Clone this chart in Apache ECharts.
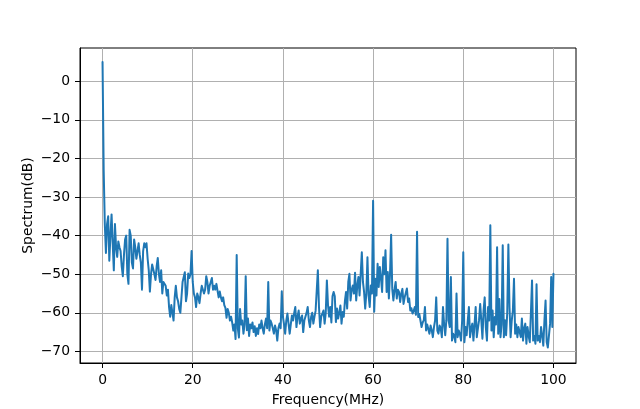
<!DOCTYPE html>
<html><head><meta charset="utf-8">
<script src="https://cdn.jsdelivr.net/npm/echarts@6/dist/echarts.min.js"></script>
<style>html,body{margin:0;padding:0;background:#fff}#c{width:640px;height:409px}</style>
</head><body><div id="c"></div>
<script>
// Spectrum samples (dB), one value every 0.25 MHz, 5 MHz per band
const freqStart = 0, freqStep = 0.25;
const band00 = [5, -23, -37, -44.5, -37, -35, -46.5, -40, -34.5, -42, -49, -37, -43, -45.5, -41.5, -43, -44, -48, -50.5, -45];
const band05 = [-41, -40, -50, -52.5, -38.5, -40, -47, -48.5, -41, -43, -46, -44, -42, -45, -47, -54, -44, -42, -43, -42];
const band10 = [-46, -49, -54.5, -50, -47.5, -48, -50, -51.5, -48, -45.8, -50, -52, -49, -55, -52, -51.5, -53, -55.5, -54, -58.5];
const band15 = [-61, -58, -57.5, -62, -56, -53, -56, -57, -59, -60, -56, -52, -52.5, -49.5, -57, -55, -49.8, -51, -50, -44];
const band20 = [-52, -55, -56, -58.5, -55, -56, -57.5, -55, -53, -52.5, -55, -54, -50.5, -52, -55, -53, -52, -51, -54, -53];
const band25 = [-54, -52.5, -53, -56, -54.5, -56, -57, -56, -58, -58.7, -61.3, -59, -60, -62, -61, -62.5, -64.6, -63, -66.8, -45];
const band30 = [-64, -66.4, -59, -63, -62, -65.4, -63, -50.5, -64.5, -61.5, -66, -63, -64, -62.5, -65, -63.5, -66, -64, -65.5, -63];
const band35 = [-64, -62, -64, -65.4, -63, -61.5, -64, -52, -64.6, -62, -62.8, -64, -65.4, -63.3, -64.5, -67.2, -64, -62.8, -64, -54.4];
const band40 = [-61, -63, -65.4, -62, -60.2, -62.8, -65.4, -63, -60.7, -62, -60, -58.5, -63.7, -61, -59.4, -62.8, -61.5, -60.7, -65, -62];
const band45 = [-61.5, -60, -58.5, -62, -63.7, -61.1, -60, -62.8, -61, -59.5, -60, -49, -58.5, -63.7, -61, -60.2, -59.4, -62.8, -60, -51.6];
const band50 = [-58, -61, -58.5, -62.5, -55.7, -54.6, -55.7, -62.4, -58.9, -61.5, -60, -58.1, -62.8, -59.8, -61, -57, -54.6, -58.9, -52, -49.9];
const band55 = [-56.8, -54, -52.9, -55, -49.6, -56.8, -52.9, -50.7, -55.5, -49.9, -44.3, -52, -54.6, -58.9, -55, -45.6, -55.5, -58.5, -52.9, -55];
const band60 = [-31, -59.7, -51.2, -55.5, -47.3, -53.3, -48.1, -51, -54.6, -45.6, -50, -43.8, -54.6, -49.4, -56.3, -50, -39.8, -53.8, -56.8, -54];
const band65 = [-52, -56.3, -54, -54.6, -57.2, -55, -53.8, -57.7, -56, -55.5, -53.7, -57.2, -56.3, -59.4, -58.8, -60.2, -59.5, -58.5, -60.5, -39];
const band70 = [-61.1, -60.3, -62, -63.7, -62.5, -61.9, -58.5, -64.6, -63, -62.8, -65.4, -63.3, -64.5, -66.3, -63.7, -62, -56, -64.6, -65.4, -63.3];
const band75 = [-64, -66.3, -58.5, -63, -65.8, -61.9, -40.8, -62, -63.7, -50.7, -67.2, -65.4, -66, -67.6, -55, -66.3, -64.6, -65.5, -67.2, -62];
const band80 = [-44.3, -67.6, -63.7, -65.8, -62, -58.5, -66.3, -64, -62.8, -67.2, -63, -58.5, -66.3, -64, -61.9, -57.7, -62, -66.7, -59.4, -56];
const band85 = [-63.7, -67.2, -58.5, -62, -37.3, -64.6, -59.4, -66.3, -61.1, -63, -43, -65.4, -56.4, -66.3, -63, -42.5, -66.3, -61.9, -65.8, -60];
const band90 = [-42.3, -58.5, -66.3, -62, -59.4, -51.2, -65.4, -63, -66.3, -63.7, -65, -66.3, -61.5, -67.2, -64, -62.8, -68, -63.7, -66, -67.6];
const band95 = [-60, -51.6, -67.2, -66, -68, -52.6, -67.2, -66, -67.6, -63.7, -66, -68.5, -62, -56.8, -67.6, -69, -68.9, -62.8, -50.7, -63.7];
const band100 = [-49.9];

const xTicks = [0, 20, 40, 60, 80, 100];
const yTicks = [-70, -60, -50, -40, -30, -20, -10, 0];
const xName = 'Frequency(MHz)';
const yName = 'Spectrum(dB)';

const spectrum = [].concat(band00, band05, band10, band15, band20, band25, band30, band35, band40, band45,
  band50, band55, band60, band65, band70, band75, band80, band85, band90, band95, band100);
const seriesData = spectrum.map((v, i) => [freqStart + i * freqStep, v]);

const font = 'DejaVu Sans';
const fs = 13.9;
const chart = echarts.init(document.getElementById('c'), null, {renderer: 'canvas', width: 640, height: 409});
chart.setOption({
  animation: false,
  backgroundColor: '#fff',
  grid: {left: 80, top: 48, width: 496, height: 315, show: true, borderColor: '#000', borderWidth: 1,
    backgroundColor: 'transparent', outerBoundsMode: 'none', containLabel: false},
  xAxis: {
    type: 'value', min: -5, max: 105,
    name: xName, nameLocation: 'middle', nameGap: 30, nameMoveOverlap: false,
    nameTextStyle: {fontFamily: font, fontSize: fs, color: '#000'},
    axisLine: {show: true, onZero: false, lineStyle: {color: '#000', width: 1}},
    axisTick: {show: true, inside: false, length: 5, customValues: xTicks, lineStyle: {color: '#000', width: 1}},
    axisLabel: {customValues: xTicks, margin: 10, fontFamily: font, fontSize: fs, color: '#000'},
    splitLine: {show: true, lineStyle: {color: '#b0b0b0', width: 1}}
  },
  yAxis: {
    type: 'value', min: -73, max: 8.6,
    name: yName, nameLocation: 'middle', nameGap: 45, nameRotate: 90, nameMoveOverlap: false,
    nameTextStyle: {fontFamily: font, fontSize: fs, color: '#000'},
    axisLine: {show: true, onZero: false, lineStyle: {color: '#000', width: 1}},
    axisTick: {show: true, inside: false, length: 5, customValues: yTicks, lineStyle: {color: '#000', width: 1}},
    axisLabel: {customValues: yTicks, margin: 10, fontFamily: font, fontSize: fs, color: '#000',
      formatter: v => String(v).replace('-', '\u2212')},
    splitLine: {show: true, lineStyle: {color: '#b0b0b0', width: 1}}
  },
  series: [{
    type: 'line', data: seriesData, showSymbol: false, symbol: 'none',
    lineStyle: {color: '#1f77b4', width: 2, join: 'round', cap: 'round'}, itemStyle: {color: '#1f77b4'}
  }]
});
</script></body></html>
